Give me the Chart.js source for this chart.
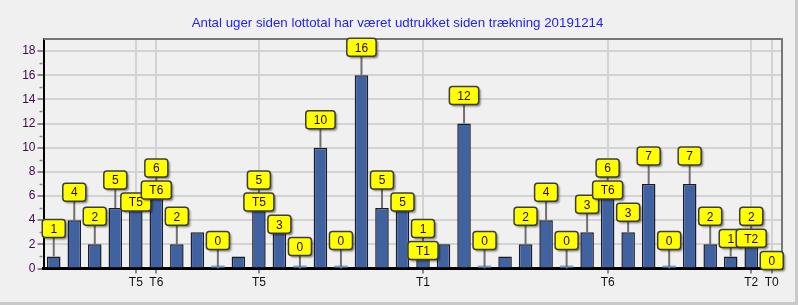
<!DOCTYPE html>
<html>
<head>
<meta charset="utf-8">
<script src="https://cdn.jsdelivr.net/npm/chart.js@4.4.1/dist/chart.umd.min.js"></script>
<style>
  html, body { margin: 0; padding: 0; background: #f0f0f0; }
  #wrap { width: 795px; height: 302px; border-right: 3px solid #c9c9c9; border-bottom: 3px solid #c9c9c9; }
</style>
</head>
<body>
<div id="wrap"><canvas id="lottoChart"></canvas></div>
<script>
// lottotal 1..36
const numbers = ['1','2','3','4','5','6','7','8','9','10','11','12','13','14','15','16','17','18',
                 '19','20','21','22','23','24','25','26','27','28','29','30','31','32','33','34','35','36'];
// uger siden sidst udtrukket
const weeks = [1,4,2,5,5,6,2,3,0,1, 5,3,0,10,0,16,5,5,1,2, 12,0,1,2,4,0,3,6,3,7, 0,7,2,1,2,0];
// T-mærker på x-aksen
const tMarks = ['','','','','T5','T6','','','','', 'T5','','','','','','','','T1','',
                '','','','','','','','T6','','', '','','','','T2','T0'];
const yTicks = [0,2,4,6,8,10,12,14,16,18];

// labels the original hid (overlap), 1-based
const hiddenValueLabels = [5,8,10,20,23];
const hiddenTagBoxes = [36];
// how high the value box sits above the bar top (px), default 28
const labelLift = {12: 8, 13: 22, 18: 6, 29: 20, 34: 18, 36: 8};

function roundRect(ctx, x, y, w, h, r) {
    ctx.beginPath();
    ctx.moveTo(x + r, y);
    ctx.lineTo(x + w - r, y);
    ctx.quadraticCurveTo(x + w, y, x + w, y + r);
    ctx.lineTo(x + w, y + h - r);
    ctx.quadraticCurveTo(x + w, y + h, x + w - r, y + h);
    ctx.lineTo(x + r, y + h);
    ctx.quadraticCurveTo(x, y + h, x, y + h - r);
    ctx.lineTo(x, y + r);
    ctx.quadraticCurveTo(x, y, x + r, y);
    ctx.closePath();
}

function drawBox(ctx, text, cx, cy) {
    ctx.font = '12px "Liberation Sans", Arial, sans-serif';
    const w = Math.max(ctx.measureText(text).width + 16, 23);
    const h = 18;
    ctx.save();
    ctx.shadowColor = 'rgba(0,0,0,0.45)';
    ctx.shadowOffsetX = 2;
    ctx.shadowOffsetY = 2;
    ctx.shadowBlur = 2;
    roundRect(ctx, cx - w / 2, cy - h / 2, w, h, 3);
    ctx.fillStyle = '#ffff00';
    ctx.fill();
    ctx.restore();
    roundRect(ctx, cx - w / 2, cy - h / 2, w, h, 3);
    ctx.lineWidth = 1.5;
    ctx.strokeStyle = '#3c3c3c';
    ctx.stroke();
    ctx.fillStyle = '#300000';
    ctx.textAlign = 'center';
    ctx.textBaseline = 'middle';
    ctx.fillText(text, cx, cy + 1);
}

const extrasPlugin = {
    id: 'extras',
    beforeDatasetsDraw(chart) {
        const { ctx, chartArea: a, scales } = chart;
        ctx.save();
        // top and right frame
        ctx.strokeStyle = '#767676';
        ctx.lineWidth = 2;
        ctx.beginPath();
        ctx.moveTo(a.left, a.top);
        ctx.lineTo(a.right, a.top);
        ctx.lineTo(a.right, a.bottom);
        ctx.stroke();
        // minor y ticks
        ctx.strokeStyle = '#8a8a8a';
        ctx.lineWidth = 1.5;
        for (let v = 1; v < 19; v += 2) {
            const y = Math.round(scales.y.getPixelForValue(v)) + 0.5;
            ctx.beginPath();
            ctx.moveTo(a.left - 4, y);
            ctx.lineTo(a.left - 1, y);
            ctx.stroke();
        }
        ctx.restore();
    },
    afterDatasetsDraw(chart) {
        const { ctx, scales } = chart;
        const meta = chart.getDatasetMeta(0);
        ctx.save();
        weeks.forEach((v, i) => {
            const n = i + 1;
            const x = meta.data[i].x;
            const top = scales.y.getPixelForValue(v);
            const showVal = !hiddenValueLabels.includes(n);
            const showTag = tMarks[i] && !hiddenTagBoxes.includes(n);
            const lift = labelLift[n] !== undefined ? labelLift[n] : 28;
            if (showVal) {
                ctx.strokeStyle = '#707070';
                ctx.lineWidth = 2;
                ctx.beginPath();
                ctx.moveTo(x, top);
                ctx.lineTo(x, top - lift);
                ctx.stroke();
                drawBox(ctx, String(v), x, top - lift);
            }
            if (showTag) drawBox(ctx, tMarks[i], x, top - 6);
        });
        ctx.restore();
    }
};

new Chart(document.getElementById('lottoChart'), {
    type: 'bar',
    data: {
        labels: numbers,
        datasets: [{
            data: weeks,
            backgroundColor: c => c.raw === 0 ? '#7f9fd8' : '#4162a1',
            borderColor: '#1c1c28',
            borderWidth: c => c.raw === 0 ? 0 : 1.5,
            borderSkipped: 'bottom',
            minBarLength: 3,
            barPercentage: 0.66,
            categoryPercentage: 1
        }]
    },
    plugins: [extrasPlugin],
    options: {
        responsive: true,
        maintainAspectRatio: false,
        animation: false,
        layout: { padding: 0 },
        plugins: {
            legend: { display: false },
            tooltip: { enabled: false },
            title: {
                display: true,
                text: 'Antal uger siden lottotal har været udtrukket siden trækning 20191214',
                color: '#2323f0',
                font: { family: '"Liberation Sans", Arial, sans-serif', size: 13.3, weight: 'normal' },
                padding: { top: 15, bottom: 8 }
            }
        },
        scales: {
            x: {
                offset: true,
                afterFit: s => { s.height = 33.5; },
                grid: {
                    offset: false,
                    color: c => tMarks[c.index] ? '#d3d3d3' : 'transparent',
                    tickColor: c => tMarks[c.index] ? '#8a8a8a' : 'transparent',
                    lineWidth: 2,
                    tickLength: 5
                },
                border: { display: true, color: '#000000', width: 3 },
                ticks: {
                    autoSkip: false,
                    maxRotation: 0,
                    padding: 2,
                    color: '#101010',
                    font: { family: '"Liberation Sans", Arial, sans-serif', size: 12 },
                    callback: (val, i) => tMarks[i]
                }
            },
            y: {
                min: 0,
                max: 19,
                afterFit: s => { s.width = 43.5; },
                afterBuildTicks: s => { s.ticks = yTicks.map(v => ({ value: v })); },
                grid: {
                    color: c => c.tick && c.tick.value === 0 ? 'transparent' : '#d3d3d3',
                    tickColor: '#8a8a8a',
                    lineWidth: 2,
                    tickLength: 6
                },
                border: { display: true, color: '#000000', width: 2 },
                ticks: {
                    padding: 2,
                    color: '#3d0a46',
                    font: { family: '"Liberation Sans", Arial, sans-serif', size: 12 }
                }
            },
            // empty right strip so the title centres on the whole canvas
            yRight: {
                position: 'right',
                min: 0,
                max: 19,
                afterFit: s => { s.width = 13; },
                grid: { display: false },
                border: { display: false },
                ticks: { display: false }
            }
        }
    }
});
</script>
</body>
</html>
